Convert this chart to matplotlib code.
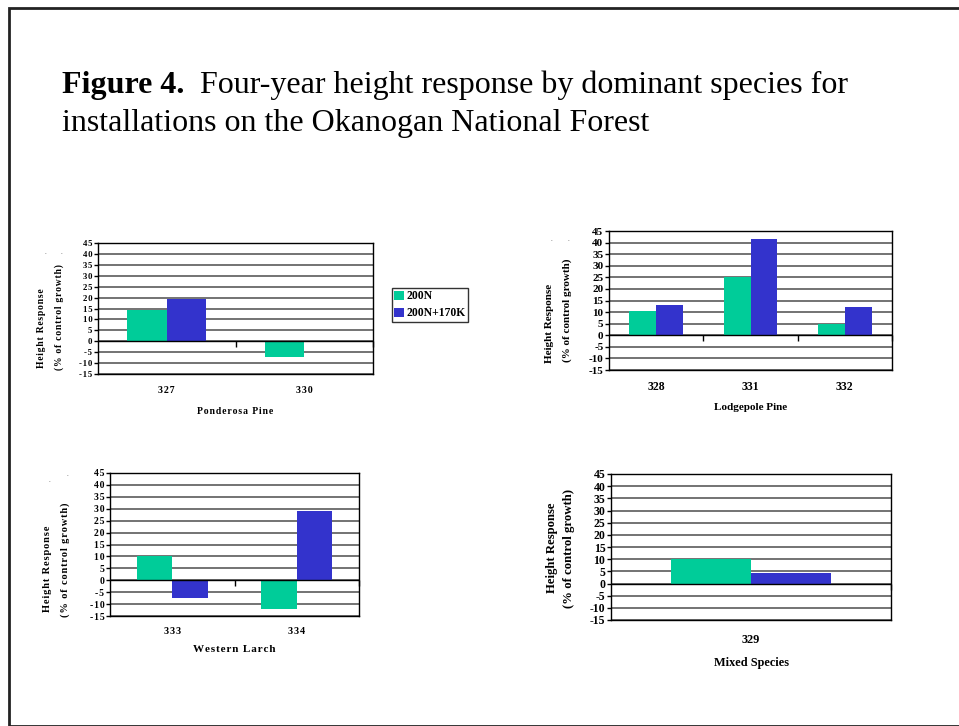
import numpy as np
import matplotlib
matplotlib.use("Agg")
import matplotlib.pyplot as plt
from matplotlib.patches import Rectangle
from matplotlib.transforms import blended_transform_factory

W, H = 959, 726

# ---- data -------------------------------------------------------------
series_names = ["200N", "200N+170K"]
colors = ["#00CC99", "#3333CC"]

ponderosa_sites = ["327", "330"]
ponderosa_200n = [14.5, -7.0]
ponderosa_200n_170k = [19.5, np.nan]

lodgepole_sites = ["328", "331", "332"]
lodgepole_200n = [10.5, 25.0, 5.0]
lodgepole_200n_170k = [13.0, 41.5, 12.0]

larch_sites = ["333", "334"]
larch_200n = [10.0, -12.0]
larch_200n_170k = [-7.5, 29.0]

mixed_sites = ["329"]
mixed_200n = [10.0]
mixed_200n_170k = [4.3]

y_ticks = list(range(-15, 50, 5))

SERIF = "Liberation Serif"

fig = plt.figure(figsize=(W / 100, H / 100), dpi=100)


def px_rect(x0, y0, x1, y1):
    return [x0 / W, 1 - y1 / H, (x1 - x0) / W, (y1 - y0) / H]


def fx(x):
    return x / W


def fy(y):
    return 1 - y / H


def spaced(s, on):
    return "\u200a".join(s) if on else s


def panel(rect, sites, a, b, species, ylab_pos, cat_y, xlab_y,
          tick_fs, cat_fs, xlab_fs, ylab_fs, letter_spaced=False):
    ax = fig.add_axes(px_rect(*rect))
    n = len(sites)
    x = np.arange(n)
    w = 1 / 3.5
    ax.bar(x - w / 2, a, width=w, color=colors[0], zorder=2, label=series_names[0])
    ax.bar(x + w / 2, b, width=w, color=colors[1], zorder=2, label=series_names[1])
    ax.set_xlim(-0.5, n - 0.5)
    ax.set_ylim(y_ticks[0], y_ticks[-1])
    ax.set_yticks(y_ticks)
    ax.set_yticklabels([spaced(str(t), letter_spaced) for t in y_ticks],
                       fontfamily=SERIF, fontweight="bold", fontsize=tick_fs)
    ax.tick_params(axis="y", length=3, width=1, pad=1, colors="black")
    ax.set_xticks([])
    ax.grid(axis="y", color="#4d4d4d", linewidth=1.1, zorder=0)
    ax.set_axisbelow(True)
    ax.axhline(0, color="black", linewidth=1, zorder=3)
    bounds = np.arange(0.5, n, 1.0)
    ax.plot(bounds, np.zeros_like(bounds), linestyle="none", marker=3,
            markersize=4, color="black", clip_on=False, zorder=3)
    for s in ax.spines.values():
        s.set_color("black")
        s.set_linewidth(1)
    # category labels under the plot area
    trans = blended_transform_factory(ax.transData, fig.transFigure)
    for xi, s in zip(x, sites):
        ax.text(xi, fy(cat_y), spaced(s, letter_spaced), transform=trans,
                ha="center", va="center",
                fontfamily=SERIF, fontweight="bold", fontsize=cat_fs)
    cx = (rect[0] + rect[2]) / 2
    fig.text(fx(cx), fy(xlab_y), spaced(species, letter_spaced), ha="center", va="center",
             fontfamily=SERIF, fontweight="bold", fontsize=xlab_fs)
    (x1, y1), (x2, y2) = ylab_pos
    fig.text(fx(x1), fy(y1), spaced("Height Response", letter_spaced), rotation=90,
             ha="center", va="center", fontfamily=SERIF, fontweight="bold", fontsize=ylab_fs)
    fig.text(fx(x2), fy(y2), spaced("(% of control growth)", letter_spaced), rotation=90,
             ha="center", va="center", fontfamily=SERIF, fontweight="bold", fontsize=ylab_fs)
    return ax


ax1 = panel((98, 243, 373, 374), ponderosa_sites, ponderosa_200n, ponderosa_200n_170k,
            "Ponderosa Pine", ((42, 328), (59, 317)), 391, 412,
            tick_fs=6.3, cat_fs=7.2, xlab_fs=7.0, ylab_fs=6.9, letter_spaced=True)
ax2 = panel((609, 231, 892, 370), lodgepole_sites, lodgepole_200n, lodgepole_200n_170k,
            "Lodgepole Pine", ((549, 323), (567, 310)), 387, 408,
            tick_fs=8.0, cat_fs=8.5, xlab_fs=8.0, ylab_fs=8.0)
ax3 = panel((110, 473, 359, 616), larch_sites, larch_200n, larch_200n_170k,
            "Western Larch", ((47, 569), (65, 560)), 631, 650,
            tick_fs=7.0, cat_fs=7.4, xlab_fs=8.0, ylab_fs=7.5, letter_spaced=True)
ax4 = panel((611, 474, 891, 620), mixed_sites, mixed_200n, mixed_200n_170k,
            "Mixed Species", ((552, 548), (569, 549)), 640, 663,
            tick_fs=8.5, cat_fs=8.8, xlab_fs=8.8, ylab_fs=9.2)

# legend for the first panel
leg = ax1.legend(loc="upper left", bbox_to_anchor=(fx(392), fy(288)),
                 bbox_transform=fig.transFigure, frameon=True, fancybox=False,
                 edgecolor="black", borderpad=0.2, handlelength=0.85, handleheight=0.8,
                 handletextpad=0.2, labelspacing=0.42, borderaxespad=0,
                 prop={"family": SERIF, "weight": "bold", "size": 8.4})
leg.get_frame().set_linewidth(1)

# stray marks above the y-axis titles
for (dx, dy) in [(45, 253), (61, 253), (551, 239), (568, 239), (49, 481), (67, 474)]:
    fig.text(fx(dx), fy(dy), ".", ha="center", va="center", fontsize=5,
             fontfamily=SERIF, color="#333333")

# page frame
fig.patches.append(Rectangle((fx(9), 0), 1.2, fy(8), transform=fig.transFigure,
                             fill=False, edgecolor="#222222", linewidth=2))

# heading
t1 = fig.text(fx(62), fy(93), "Figure 4.", ha="left", va="baseline",
              fontfamily=SERIF, fontweight="bold", fontsize=23)
plt.annotate("  Four-year height response by dominant species for", xy=(1, 0), xycoords=t1,
             ha="left", va="bottom", fontfamily=SERIF, fontsize=23, annotation_clip=False)
fig.text(fx(62), fy(131), "installations on the Okanogan National Forest", ha="left",
         va="baseline", fontfamily=SERIF, fontsize=23)

fig.savefig("out.png", dpi=100)
